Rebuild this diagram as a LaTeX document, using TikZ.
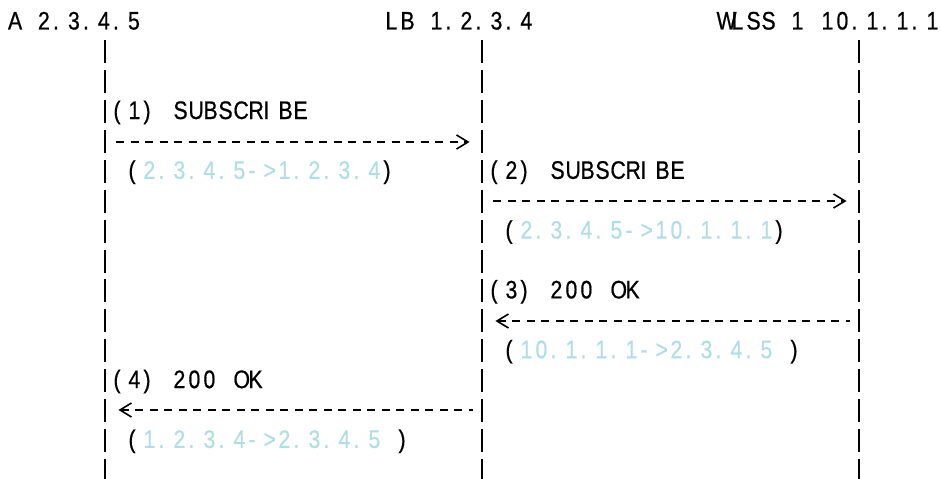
\documentclass[tikz,border=0pt]{standalone}
\usepackage{fontspec}
\setmainfont{Liberation Sans}[FakeStretch=0.84,FakeBold=0.6]
\usetikzlibrary{arrows.meta}
\definecolor{addr}{RGB}{176,222,230}
\newlength\cellw
\setlength\cellw{11.25pt}
\ExplSyntaxOn
\NewDocumentCommand\cells{m}{\str_map_inline:nn {#1} {\makebox[\cellw][l]{##1}}}
\ExplSyntaxOff
\begin{document}
\begin{tikzpicture}[x=0.75pt,y=-0.75pt,
  txt/.style={anchor=base west,inner sep=0pt,outer sep=0pt,font=\fontsize{19pt}{22pt}\selectfont},
  life/.style={line width=1.25pt,dash pattern=on 17.25pt off 5.175pt},
  msgline/.style={line width=1.35pt,dash pattern=on 6pt off 4.875pt},
  tipR/.style={-{Straight Barb[length=8.6pt,width=10.5pt,line width=1.2pt,sep=2.6pt]}},
  tipL/.style={{Straight Barb[length=8.6pt,width=10.5pt,line width=1.2pt,sep=2.6pt]}-}]
\useasboundingbox (0,0) rectangle (941,478);
% headers
\node[txt] (hA) at (8,29.5) {\cells{A 2.3.4.5}};
\node[txt] (hLB) at (385.5,29.5) {\cells{LB 1.2.3.4}};
\node[txt] (hW) at (716.5,29.5) {\cells{WLSS 1 10.1.1.1}};
% lifelines
\coordinate (LA0) at (105,40.2);  \coordinate (LA1) at (105,482);
\coordinate (LB0) at (482,40.2);  \coordinate (LB1) at (482,482);
\coordinate (LW0) at (859,40.2);  \coordinate (LW1) at (859,482);
\draw[life] (LA0) -- (LA1);
\draw[life] (LB0) -- (LB1);
\draw[life] (LW0) -- (LW1);
% message labels
\node[txt] (m1) at (113.5,119) {\cells{(1) SUBSCRIBE}};
\node[txt] (p1) at (128.5,178.8) {\cells{(}\textcolor{addr}{\cells{2.3.4.5->1.2.3.4}}\cells{)}};
\node[txt] (m2) at (490.5,178.8) {\cells{(2) SUBSCRIBE}};
\node[txt] (p2) at (505.5,238.6) {\cells{(}\textcolor{addr}{\cells{2.3.4.5->10.1.1.1}}\cells{)}};
\node[txt] (m3) at (490.5,298.4) {\cells{(3) 200 OK}};
\node[txt] (p3) at (505.5,358.2) {\cells{(}\textcolor{addr}{\cells{10.1.1.1->2.3.4.5}}\hspace*{\cellw}\cells{)}};
\node[txt] (m4) at (113.5,388.1) {\cells{(4) 200 OK}};
\node[txt] (p4) at (128.5,447.9) {\cells{(}\textcolor{addr}{\cells{1.2.3.4->2.3.4.5}}\hspace*{\cellw}\cells{)}};
% message arrows
\coordinate (s1) at (116,142);  \coordinate (e1) at (473,142);
\coordinate (s2) at (493,201);  \coordinate (e2) at (850,201);
\coordinate (s3) at (850,321); \coordinate (e3) at (492,321);
\coordinate (s4) at (473,410); \coordinate (e4) at (115,410);
\draw[msgline,tipR] (s1) -- (e1);
\draw[msgline,tipR] (s2) -- (e2);
\draw[msgline,tipL] (e3) -- (s3);
\draw[msgline,tipL] (e4) -- (s4);
\end{tikzpicture}
\end{document}
